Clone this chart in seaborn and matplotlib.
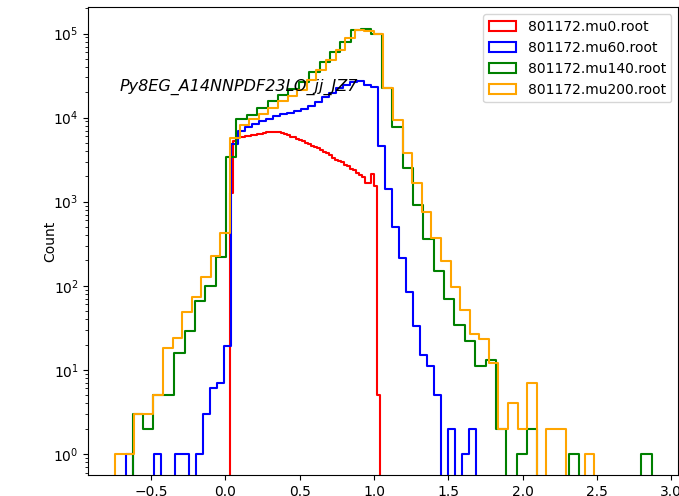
import numpy as np
import pandas as pd
import seaborn as sns
import matplotlib
matplotlib.use("Agg")
import matplotlib.pyplot as plt
from matplotlib.patches import Patch

# file names / colours
labels = ["801172.mu0.root", "801172.mu60.root", "801172.mu140.root", "801172.mu200.root"]
colors = ["red", "blue", "green", "orange"]

# histogram ranges (50 bins each)
ranges = [(0.034, 1.038), (-0.666, 1.683), (-0.623, 2.867), (-0.742, 2.482)]

# counts per bin
mu0 = [1275, 5290, 5640, 5900, 5950, 6010, 6080, 6180, 6250, 6350,
       6420, 6500, 6650, 6750, 6800, 6700, 6750, 6550, 6350, 6150,
       5950, 5800, 5600, 5350, 5200, 5000, 4830, 4650, 4500, 4300,
       4150, 3950, 3750, 3580, 3350, 3150, 3050, 2930, 2750, 2640,
       2450, 2350, 2200, 2100, 1950, 1650, 1650, 2120, 1530, 5]
mu60 = [1, 0, 0, 0, 1, 0, 0, 1, 1, 0,
        1, 3, 6, 7, 19, 4900, 6950, 7750, 8350, 9130,
        9750, 10400, 11000, 11400, 11900, 12800, 13700, 15400, 17600, 19700,
        22200, 24300, 26600, 27300, 24300, 23000, 4610, 1410, 502, 215,
        84, 33, 15, 11, 5, 0, 2, 0, 1, 2]
mu140 = [3, 2, 5, 5, 16, 29, 66, 100, 217, 3400,
         9750, 10700, 13000, 15700, 18800, 21700, 26600, 34900, 45900, 60400,
         79400, 111000, 114500, 100000, 22200, 7760, 2530, 910, 362, 151,
         69, 34, 22, 11, 13, 2, 0, 1, 2, 0,
         0, 0, 1, 0, 0, 0, 0, 0, 0, 1]
mu200 = [1, 1, 3, 3, 5, 18, 24, 49, 73, 126,
         225, 426, 5650, 8130, 9490, 11000, 13100, 15800, 18300, 21500,
         27800, 36600, 48100, 63300, 87300, 111000, 108000, 98000, 22500, 9310,
         3810, 1650, 760, 370, 198, 97, 51, 27, 23, 12,
         2, 4, 2, 7, 0, 2, 2, 0, 0, 1]
series = [mu0, mu60, mu140, mu200]

fig, ax = plt.subplots(figsize=(6.79, 4.96), dpi=100)
fig.subplots_adjust(left=0.130, right=0.999, top=0.985, bottom=0.042)

for (lo, hi), counts, c in zip(ranges, series, colors):
    edges = np.linspace(lo, hi, 51)
    w = edges[1] - edges[0]
    df = pd.DataFrame({"x": (edges[:-1] + edges[1:]) / 2, "n": counts})
    # one empty bin on each side so the outline drops to the axis
    bins = [lo - w] + list(edges) + [hi + w]
    sns.histplot(data=df, x="x", weights="n", bins=bins, element="step",
                 fill=False, color=c, linewidth=1.5, ax=ax)

ax.set_yscale("log")
ax.set_xlim(-0.922, 3.047)
ax.set_ylim(10 ** -0.253, 10 ** 5.31)
ax.set_xlabel("")
ax.set_ylabel("Count", labelpad=-3)

ax.text(0.0525, 0.822, "Py8EG_A14NNPDF23LO_jj_JZ7", transform=ax.transAxes,
        fontsize=11.5, style="italic", ha="left", va="baseline")

handles = [Patch(facecolor="none", edgecolor=c, linewidth=1.5, label=l)
           for c, l in zip(colors, labels)]
ax.legend(handles=handles, loc="upper right")

fig.savefig("out.png", dpi=100)
